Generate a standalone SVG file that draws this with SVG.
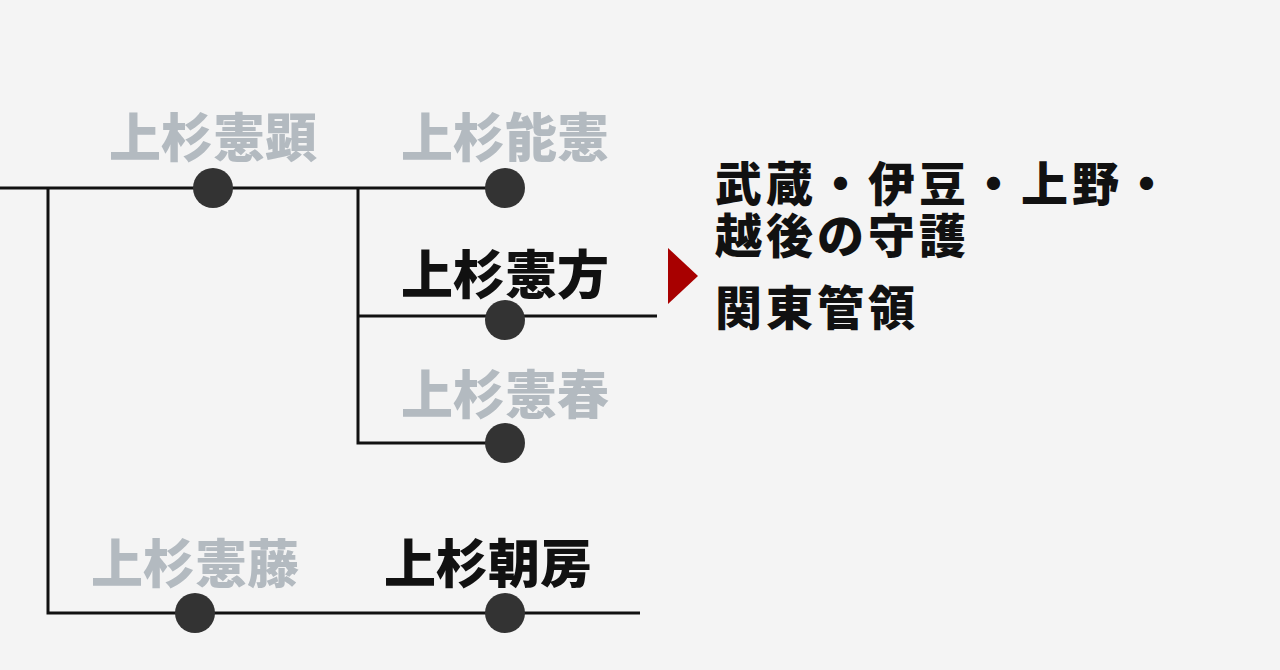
<svg xmlns="http://www.w3.org/2000/svg" width="1280" height="670" viewBox="0 0 1280 670">
<style>
.l{stroke:#111;stroke-width:3;fill:none}
.d{fill:#333}
text{font-family:"Noto Sans CJK JP",sans-serif;font-weight:900;font-size:52px;text-anchor:middle}
.g{fill:#b3bac0}
.k{fill:#111}
.r{font-size:47px;letter-spacing:4px;text-anchor:start;fill:#111}
</style>
<rect width="1280" height="670" fill="#f4f4f4"/>
<g id="connectors">
<path class="l" d="M0 188H505M48 188V613H640M358 188V443H505M358 316H657"/>
<polygon points="668,248 698,276 668,304" fill="#a80000"/>
</g>
<g id="n1"><text class="g" x="213" y="157">上杉憲顕</text><circle class="d" cx="213" cy="188" r="20"/></g>
<g id="n2"><text class="g" x="505" y="157">上杉能憲</text><circle class="d" cx="505" cy="188" r="20"/></g>
<g id="n3"><text class="k" x="505" y="294">上杉憲方</text><circle class="d" cx="505" cy="320" r="20"/></g>
<g id="n4"><text class="g" x="505" y="414">上杉憲春</text><circle class="d" cx="505" cy="443" r="20"/></g>
<g id="n5"><text class="g" x="195" y="583">上杉憲藤</text><circle class="d" cx="195" cy="613" r="20"/></g>
<g id="n6"><text class="k" x="488" y="583">上杉朝房</text><circle class="d" cx="505" cy="613" r="20"/></g>
<g id="label"><text class="r" x="715" y="201">武蔵・伊豆・上野・</text><text class="r" x="715" y="253">越後の守護</text><text class="r" x="715" y="325">関東管領</text></g>
</svg>
